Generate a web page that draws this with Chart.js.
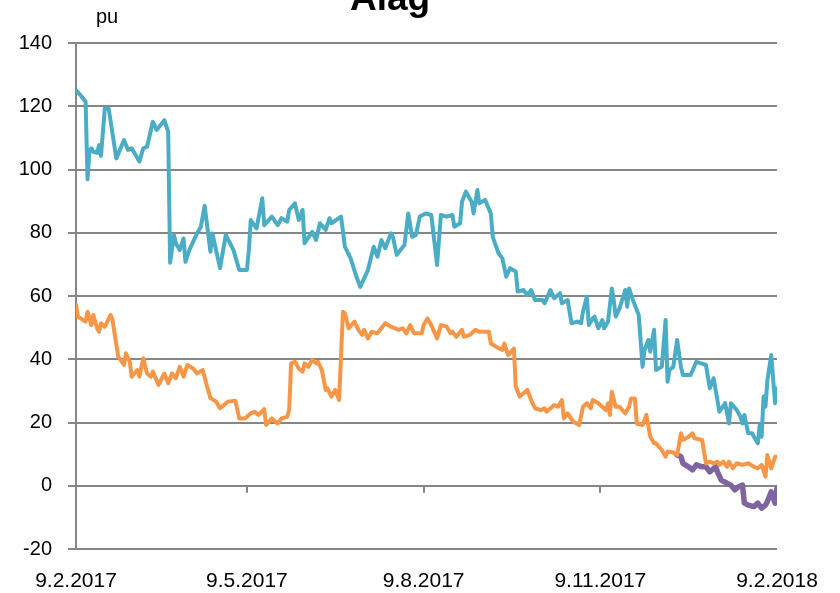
<!DOCTYPE html>
<html>
<head>
  <meta charset="UTF-8">
  <title>Alag</title>
  <script src="https://cdn.jsdelivr.net/npm/chart.js"></script>
  <style>
    body {
      margin: 0;
      background: #fff;
    }
    #wrap {
      width: 840px;
      height: 593px;
    }
  </style>
</head>
<body>
  <div id="wrap"><canvas id="chart" width="840" height="593"></canvas></div>

  <script>
    // days counted from 9.2.2017
    const xTickDays = [0, 89, 181, 273, 365];
    const xTickLabels = ["9.2.2017", "9.5.2017", "9.8.2017", "9.11.2017", "9.2.2018"];

    const blueDays = [0,3,5,6,7,8,9,11,12,13,15,17,21,25,27,29,33,35,37,40,42,46,48,49,51,52,54,56,57,59,63,65,67,70,71,75,78,82,85,89,90,91,94,97,98,102,105,107,110,111,114,116,118,119,123,125,127,130,132,133,138,140,143,146,148,152,155,157,159,161,164,165,167,171,173,175,177,179,182,185,188,190,193,196,197,200,201,203,206,207,209,210,213,216,217,220,222,224,226,229,230,233,235,237,239,243,244,247,249,252,253,256,258,261,263,264,266,267,269,270,272,274,275,277,279,280,281,283,286,287,288,290,293,295,296,298,299,301,302,305,307,308,309,311,313,315,316,320,323,328,330,332,335,338,340,341,344,346,347,348,350,352,355,356,357,358,359,360,362,364,365];
    const blueValues = [125.1,123,121.4,96.9,106,106.7,105.6,105.3,107.7,104.3,119.3,119.3,103.5,109.3,106.2,106.7,102.5,106.7,107.2,115.1,112.5,115.6,112,70.5,79.3,76.7,74.5,78.2,70.8,74.5,79.8,81.9,88.5,74,79.8,68.8,79.3,74.5,68.2,68.2,74.5,84,81.4,90.9,82.4,85.1,82.4,84.6,83.5,87.2,89.3,84,87.2,76.7,80.3,77.7,83,80.9,84.6,83,85.1,75.6,71.9,66.1,62.9,68.2,75.6,72.4,77.7,75.1,79.8,78.7,73,76.1,86.1,78.7,79.3,85.1,86.1,85.6,69.8,85.6,85.1,85.6,81.9,83,89.8,93,89.8,86.1,93.5,89.3,90.4,86.1,78.7,73.5,71.9,66.1,68.8,67.7,61.4,61.9,60.3,61.9,58.7,58.7,57.7,61.9,59.3,60.9,57.7,58.7,51.4,51.9,51.4,55.1,59.8,50.8,52.9,53.5,49.8,52.4,49.8,51.9,62.4,58.7,53.5,56.1,61.9,56.6,62.4,58.7,54,37.6,42.9,46.1,42.4,49.3,36.6,37.6,52.4,32.9,36.6,37.6,46.1,37.6,35,35,39.2,38.2,30.8,34,23.4,26.1,19.7,26.1,24,21.8,19.7,22.4,16.6,16.6,13.4,19.2,15.5,28.2,25,33.4,41.3,26.1,30.8];

    const orangeDays = [0,1,5,6,8,9,11,12,13,15,18,19,22,25,26,28,29,32,33,35,37,39,40,43,46,48,50,52,54,56,58,61,63,66,68,70,73,75,77,79,83,85,88,90,91,93,95,98,99,102,105,107,110,111,112,114,116,118,119,121,123,125,126,128,130,131,133,135,137,139,140,142,145,147,149,150,152,154,157,159,161,164,168,170,172,174,176,180,181,183,185,188,190,193,195,196,198,201,202,205,208,210,215,216,219,222,223,225,228,229,231,235,237,239,242,244,245,249,251,253,254,256,259,262,264,266,268,269,272,274,276,277,278,279,281,283,286,288,289,291,292,295,297,299,301,302,305,307,308,311,313,315,316,319,321,322,326,328,330,332,334,335,337,339,340,342,344,347,350,353,355,357,359,360,362,364,365];
    const orangeValues = [57.2,53.5,51.9,55,50.8,54,49.8,48.7,51.4,50.3,54,52.4,40.8,38.2,41.9,39.2,34.5,36.6,34.5,40.3,35.5,34.5,36.1,31.9,35.5,32.4,35.5,34,37.6,34.5,38.2,37.1,35.5,36.6,31.9,27.7,26.6,24.5,25.5,26.6,26.9,21.3,21.3,22.4,22.9,23.4,22.4,24.2,19.2,21.3,19.7,21.3,21.8,24,38.7,39.2,37.1,36.1,38.7,37.6,39.8,38.7,39.2,36.6,30.3,30.8,28.2,30.3,27.1,55,54.5,49.8,51.9,49.3,47.7,49.3,46.6,48.7,48.2,49.8,51.4,50.3,49.3,49.8,48.2,50.8,48.2,48.2,50.8,52.9,50.8,46.6,50.8,50.3,48.2,48.7,47.1,49.3,47.1,47.7,49.3,48.7,48.7,45,43.9,42.9,45,41.3,43.4,31.3,28.2,30.3,27.1,24.5,23.9,24.5,23.4,25.5,25,27.1,21.3,22.9,20.2,19.2,25,26.1,24.5,27.1,26.1,25,23.9,26.1,22.4,29.7,25,25,22.9,25,27.6,27.6,19.7,19.2,22.4,15.5,13.4,13.4,11.3,9.2,10.8,10.5,9.7,16.6,14.5,15.5,16.6,15,14.5,7.1,7.6,7.1,7.6,6.6,7.6,6,7.6,5.5,7.1,6.6,7.1,6,5.5,6.6,2.9,9.7,5.5,9.2,9.2];

    const purpleDays = [313,315,316,319,321,323,326,328,330,333,334,336,339,341,343,345,347,348,350,353,355,357,359,360,362,364,365];
    const purpleValues = [9.7,9.2,7.1,6,5,6.6,6,6,4.4,6,4.4,1.8,0.8,0.2,-1.3,-0.3,0.2,-5.5,-6.1,-6.6,-5.5,-7.1,-6.1,-5,-1.9,-5.5,-0.8];

    const yMin = -20;
    const yMax = 140;
    const yStep = 20;

    const gridGray = "#868686";
    const textFont = "'Liberation Sans', Arial, sans-serif";

    function toPoints(days, values) {
      return days.map((d, i) => ({ x: d, y: values[i] }));
    }

    // title, unit label and the small tick marks on the zero line
    const extras = {
      id: "extras",
      afterDraw(chart) {
        const ctx = chart.ctx;
        const x = chart.scales.x;
        const y = chart.scales.y;
        const y0 = y.getPixelForValue(0);

        ctx.save();
        ctx.strokeStyle = gridGray;
        ctx.lineWidth = 2;
        ctx.beginPath();
        xTickDays.slice(1, -1).forEach(d => {
          const px = Math.round(x.getPixelForValue(d));
          ctx.moveTo(px, y0);
          ctx.lineTo(px, y0 + 7);
        });
        ctx.stroke();

        ctx.fillStyle = "#000";
        ctx.textAlign = "center";
        ctx.textBaseline = "alphabetic";
        ctx.font = "bold 37px " + textFont;
        ctx.fillText("Alag", 390, 10);

        ctx.font = "20px " + textFont;
        ctx.fillText("pu", 107, 23);
        ctx.restore();
      }
    };

    new Chart(document.getElementById("chart"), {
      type: "line",
      data: {
        datasets: [
          {
            label: "blue",
            data: toPoints(blueDays, blueValues),
            borderColor: "#4BACC6",
            borderWidth: 4
          },
          {
            label: "orange",
            data: toPoints(orangeDays, orangeValues),
            borderColor: "#F79646",
            borderWidth: 4
          },
          {
            label: "purple",
            data: toPoints(purpleDays, purpleValues),
            borderColor: "#8064A2",
            borderWidth: 5.5
          }
        ]
      },
      options: {
        responsive: false,
        animation: false,
        layout: {
          padding: { left: 0, right: 63, top: 43, bottom: 0 }
        },
        elements: {
          point: { radius: 0 },
          line: { tension: 0, borderJoinStyle: "round", borderCapStyle: "round" }
        },
        plugins: {
          legend: { display: false },
          tooltip: { enabled: false },
          title: { display: false }
        },
        scales: {
          x: {
            type: "linear",
            min: 0,
            max: 365,
            grid: { display: false },
            border: { display: false },
            afterBuildTicks: scale => {
              scale.ticks = xTickDays.map(v => ({ value: v }));
            },
            afterFit: scale => {
              scale.height = 44;
            },
            ticks: {
              autoSkip: false,
              maxRotation: 0,
              padding: 12,
              color: "#000",
              font: { size: 21, family: textFont },
              callback: value => {
                const i = xTickDays.indexOf(value);
                return i >= 0 ? xTickLabels[i] : "";
              }
            }
          },
          y: {
            min: yMin,
            max: yMax,
            grid: {
              color: gridGray,
              lineWidth: 2,
              tickLength: 8
            },
            border: { color: gridGray, width: 2 },
            afterFit: scale => {
              scale.width = 76;
            },
            ticks: {
              stepSize: yStep,
              padding: 16,
              color: "#000",
              font: { size: 20, family: textFont }
            }
          }
        }
      },
      plugins: [extras]
    });
  </script>
</body>
</html>
